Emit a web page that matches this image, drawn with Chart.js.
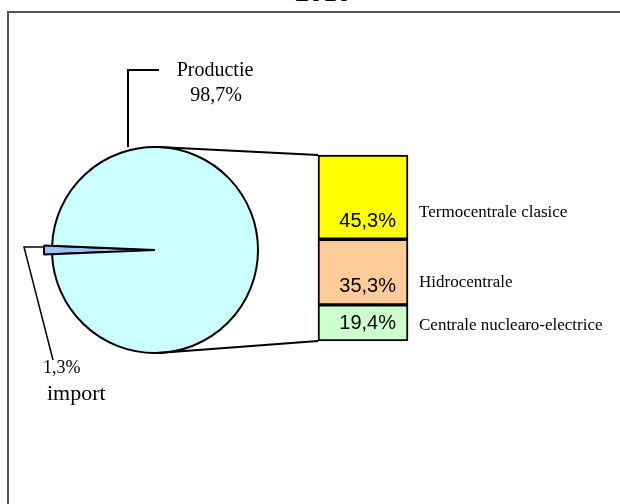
<!DOCTYPE html>
<html>
<head>
<meta charset="utf-8">
<script src="https://cdn.jsdelivr.net/npm/chart.js@4.4.0/dist/chart.umd.min.js"></script>
<style>
  body { margin: 0; background: #fff; }
  #wrap { position: relative; width: 620px; height: 504px; overflow: hidden; }
  #frame { position: absolute; left: 7px; top: 11px; width: 640px; height: 520px;
           border-left: 2px solid #555; border-top: 2px solid #555; }
  #title { position: absolute; left: 0; top: -24px; width: 646px; text-align: center;
           font: bold 28px "Liberation Serif"; line-height: 32px; }
  canvas { position: absolute; }
</style>
</head>
<body>
<div id="wrap">
  <div id="frame"></div>
  <div id="title">2010</div>
  <canvas id="pieChart" width="620" height="504" style="left:0;top:0"></canvas>
  <canvas id="barChart" width="100" height="196" style="left:313px;top:150px"></canvas>
  <canvas id="over" width="620" height="504" style="left:0;top:0"></canvas>
</div>
<script>
// pie: import vs productie
const pieLabels = ['import', 'Productie'];
const pieValues = [1.3, 98.7];
const pieColors = ['#9CC3F5', '#CCFFFF'];

// breakdown of productie
const prodLabels = ['Termocentrale clasice', 'Hidrocentrale', 'Centrale nuclearo-electrice'];
const prodValues = [45.3, 35.3, 19.4];
const prodColors = ['#FFFF00', '#FFCC99', '#CCFFCC'];

const serif = '"Liberation Serif", "Times New Roman", serif';
const sans = '"Liberation Sans", Arial, sans-serif';
const fmt = v => v.toFixed(1).replace('.', ',') + '%';

// import slice sticks out a little past the rim
const longSlice = {
  id: 'longSlice',
  afterDatasetsUpdate(chart) {
    const el = chart.getDatasetMeta(0).data[0];
    el.outerRadius += 8;
  }
};

const pieChart = new Chart(document.getElementById('pieChart'), {
  type: 'pie',
  data: {
    labels: pieLabels,
    datasets: [{
      data: pieValues,
      backgroundColor: pieColors,
      borderColor: '#000',
      borderWidth: 2
    }]
  },
  options: {
    responsive: false,
    animation: false,
    events: [],
    radius: 103,
    rotation: 270 - pieValues[0] * 3.6 / 2,
    layout: { padding: { left: 0, right: 310, top: 0, bottom: 4 } },
    plugins: { legend: { display: false }, tooltip: { enabled: false } }
  },
  plugins: [longSlice]
});

// stacked from bottom: nuclear, hidro, termo
const order = [2, 1, 0];
const barChart = new Chart(document.getElementById('barChart'), {
  type: 'bar',
  data: {
    labels: ['2010'],
    datasets: order.map(i => ({
      label: prodLabels[i],
      data: [prodValues[i]],
      backgroundColor: prodColors[i],
      borderColor: '#000',
      borderWidth: 2,
      borderSkipped: false,
      barPercentage: 1,
      categoryPercentage: 1,
      clip: false
    }))
  },
  options: {
    responsive: false,
    animation: false,
    events: [],
    layout: { padding: 5 },
    scales: {
      x: { display: false, stacked: true },
      y: { display: false, stacked: true, min: 0, max: 100 }
    },
    plugins: { legend: { display: false }, tooltip: { enabled: false } }
  }
});

// connectors + labels
const ctx = document.getElementById('over').getContext('2d');
const arcs = pieChart.getDatasetMeta(0).data;
const cx = arcs[1].x, cy = arcs[1].y, r = arcs[1].outerRadius;
const bx = 313, by = 150;
const segs = order.map((i, k) => ({ i: i, el: barChart.getDatasetMeta(k).data[0] }));
const topEl = barChart.getDatasetMeta(2).data[0];
const botEl = barChart.getDatasetMeta(0).data[0];
const barLeft = bx + topEl.x - topEl.width / 2;
const barRight = bx + topEl.x + topEl.width / 2;

ctx.strokeStyle = '#000';
ctx.lineWidth = 2;
ctx.beginPath();
ctx.moveTo(cx + 3, cy - r);
ctx.lineTo(barLeft, by + topEl.y);
ctx.moveTo(cx + 3, cy + r);
ctx.lineTo(barLeft, by + botEl.base);
ctx.stroke();

// leader for Productie
ctx.beginPath();
ctx.moveTo(cx - 27, cy - r);
ctx.lineTo(cx - 27, 70);
ctx.lineTo(159, 70);
ctx.stroke();

// leader for import
const tipX = cx - arcs[0].outerRadius;
ctx.lineWidth = 1.5;
ctx.beginPath();
ctx.moveTo(tipX + 1, 247);
ctx.lineTo(24, 247);
ctx.lineTo(53, 360);
ctx.stroke();

ctx.fillStyle = '#000';
ctx.textBaseline = 'middle';
ctx.textAlign = 'center';
ctx.font = '20px ' + serif;
ctx.fillText(pieLabels[1], 215, 71);
ctx.fillText(fmt(pieValues[1]), 216, 96);

ctx.textAlign = 'left';
ctx.font = '18px ' + serif;
ctx.fillText(fmt(pieValues[0]), 43, 368);
ctx.font = '22px ' + serif;
ctx.fillText(pieLabels[0], 47, 394);

segs.forEach(s => {
  const top = by + s.el.y, base = by + s.el.base;
  const mid = (top + base) / 2;
  ctx.textAlign = 'right';
  ctx.font = '20px ' + sans;
  ctx.fillText(fmt(prodValues[s.i]), barRight - 12, base - 18);
  ctx.textAlign = 'left';
  ctx.font = '17px ' + serif;
  ctx.fillText(prodLabels[s.i], barRight + 11, (base + mid) / 2 - 6);
});
</script>
</body>
</html>
